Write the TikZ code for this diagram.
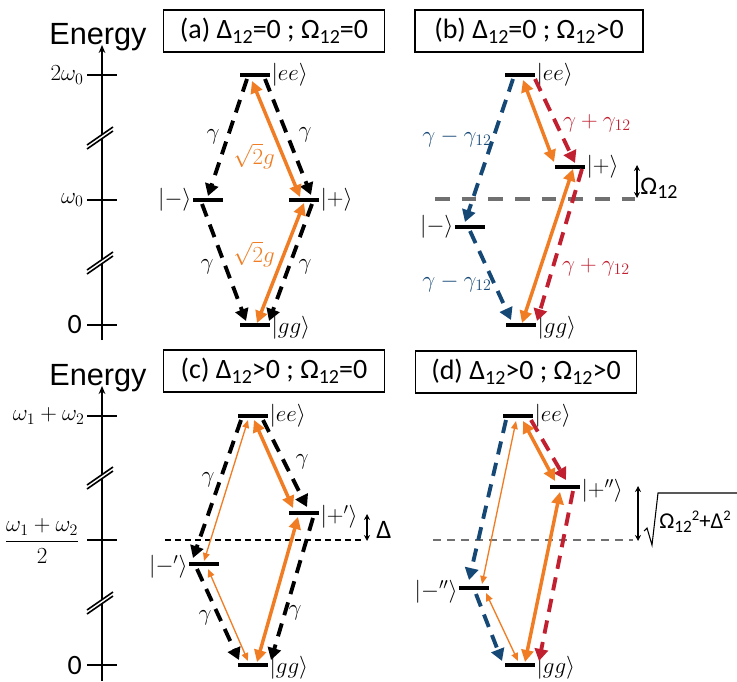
\documentclass[tikz,border=0pt]{standalone}
\usepackage{fontspec}
\usetikzlibrary{arrows.meta}
\newfontfamily\calfont{Carlito}
\newfontfamily\arialfont{Liberation Sans}
\definecolor{orng}{RGB}{240,125,35}
\definecolor{dblue}{RGB}{22,72,118}
\definecolor{dred}{RGB}{192,32,48}
\definecolor{gry}{RGB}{112,112,112}
\newcommand{\sbs}[1]{\raisebox{-0.35ex}{\fontsize{15}{15}\selectfont #1}}
\newcommand{\sbt}[1]{\raisebox{-0.35ex}{\fontsize{13}{13}\selectfont #1}}
\newcommand{\spt}[1]{\raisebox{0.75ex}{\fontsize{11}{11}\selectfont #1}}
\begin{document}
\begin{tikzpicture}[x=0.75pt,y=-0.75pt,
  bar/.style={fill=black, inner sep=0pt, minimum height=3pt, minimum width=22pt},
  decay/.style={line width=2.9pt, dash pattern=on 10pt off 6.5pt, -{Triangle[length=9pt,width=10pt]}},
  othick/.style={orng, line width=2.6pt, {Triangle[length=9pt,width=9pt]}-{Triangle[length=9pt,width=9pt]}},
  othin/.style={orng, line width=1pt, {Triangle[length=6pt,width=5pt]}-{Triangle[length=6pt,width=5pt]}},
  ttl/.style={draw, line width=0.8pt, minimum height=31.5pt, inner sep=0pt, font=\calfont\fontsize{21}{21}\selectfont},
  st/.style={font=\fontsize{18}{18}\selectfont, inner sep=1pt},
  rate/.style={font=\fontsize{17}{17}\selectfont, inner sep=0pt},
  tl/.style={font=\fontsize{18}{18}\selectfont, inner sep=0pt, anchor=east},
  en/.style={font=\arialfont\fontsize{23}{23}\selectfont, inner sep=0pt},
  axisl/.style={line width=1.5pt},
  smallarr/.style={line width=0.9pt, {Stealth[length=4.5pt,width=4.5pt]}-{Stealth[length=4.5pt,width=4.5pt]}},
  brk/.pic={
    \fill[white] (-13,7) -- (13,-11) -- (13,-7) -- (-13,11) -- cycle;
    \draw[line width=1.2pt] (-13,7) -- (13,-11);
    \draw[line width=1.2pt] (-13,11) -- (13,-7);
  }
]
\useasboundingbox (0,0) rectangle (737,681);

%================ Panel (a) =================
\node[ttl, minimum width=166pt] (ta) at (274,31) {(a) Δ\sbs{12}=0 ; Ω\sbs{12}=0};
\node[en] (enA) at (98,37) {Energy};
\coordinate (axA0) at (102,340);
\coordinate (axA1) at (102,45);
\draw[axisl, -{Stealth[length=6pt,width=5pt]}] (axA0) -- (axA1);
\foreach \yy in {75,200,325} \draw[axisl] (87,\yy) -- (117,\yy);
\node[tl] (lA1) at (84,75) {$2\omega_0$};
\node[tl] (lA2) at (84,200) {$\omega_0$};
\node[tl, font=\calfont\fontsize{21}{21}\selectfont] (lA3) at (82,325) {0};
\pic at (100,138) {brk};
\pic at (100,263) {brk};

\node[bar] (eeA) at (255,75) {};
\node[bar] (mA) at (208,200) {};
\node[bar] (pA) at (304,200) {};
\node[bar] (ggA) at (255,325) {};
\node[st, right] (eeAl) at (eeA.east) {$|ee\rangle$};
\node[st, left] (mAl) at (mA.west) {$|-\rangle$};
\node[st, right] (pAl) at (pA.east) {$|+\rangle$};
\node[st, right] (ggAl) at ([yshift=-2pt]ggA.east) {$|gg\rangle$};

\coordinate (a1) at (247,79);  \coordinate (a2) at (208,196);
\coordinate (a3) at (265,79);  \coordinate (a4) at (311,195);
\coordinate (a5) at (202,204); \coordinate (a6) at (246,321);
\coordinate (a7) at (312,204); \coordinate (a8) at (269,321);
\draw[decay] (a1) -- (a2);
\draw[decay] (a3) -- (a4);
\draw[decay] (a5) -- (a6);
\draw[decay] (a7) -- (a8);
\coordinate (a9) at (252,81);  \coordinate (a10) at (300,197);
\coordinate (a11) at (304,203); \coordinate (a12) at (257,323);
\draw[othick] (a9) -- (a10);
\draw[othick] (a11) -- (a12);
\node[rate] (gA1) at (213,137) {$\gamma$};
\node[rate] (gA2) at (305,135) {$\gamma$};
\node[rate] (gA3) at (207,267) {$\gamma$};
\node[rate] (gA4) at (305,267) {$\gamma$};
\node[rate, orng, font=\fontsize{18}{18}\selectfont] (sA1) at (254,156) {$\sqrt{2}g$};
\node[rate, orng, font=\fontsize{18}{18}\selectfont] (sA2) at (254,254) {$\sqrt{2}g$};

%================ Panel (b) =================
\node[ttl, minimum width=171pt] (tb) at (529,31) {(b) Δ\sbs{12}=0 ; Ω\sbs{12}>0};
\coordinate (gl1) at (435,199); \coordinate (gl2) at (635,199);
\draw[gry, line width=3pt, dash pattern=on 11pt off 9pt] (gl1) -- (gl2);
\node[bar] (eeB) at (520,75) {};
\node[bar] (pB) at (570,167) {};
\node[bar] (mB) at (470,227) {};
\node[bar] (ggB) at (521,325) {};
\node[st, right] (eeBl) at (eeB.east) {$|ee\rangle$};
\node[st, right] (pBl) at (pB.east) {$|+\rangle$};
\node[st, left] (mBl) at (mB.west) {$|-\rangle$};
\node[st, right] (ggBl) at ([yshift=-2pt]ggB.east) {$|gg\rangle$};

\coordinate (b1) at (513,79);  \coordinate (b2) at (465,222);
\coordinate (b3) at (470,231); \coordinate (b4) at (511,320);
\draw[decay, dblue] (b1) -- (b2);
\draw[decay, dblue] (b3) -- (b4);
\coordinate (b5) at (535,79);  \coordinate (b6) at (575,163);
\coordinate (b7) at (582,169); \coordinate (b8) at (537,321);
\draw[decay, dred] (b5) -- (b6);
\draw[decay, dred] (b7) -- (b8);
\coordinate (b9) at (523,80);  \coordinate (b10) at (554,162);
\coordinate (b11) at (573,169); \coordinate (b12) at (522,323);
\draw[othick] (b9) -- (b10);
\draw[othick] (b11) -- (b12);
\coordinate (b13) at (637,165); \coordinate (b14) at (637,198);
\draw[smallarr] (b13) -- (b14);
\node[inner sep=0pt, font=\calfont\fontsize{19}{19}\selectfont] (Om) at (659,188) {Ω\sbs{12}};
\node[rate, dblue] (gB1) at (457,138) {$\gamma-\gamma_{12}$};
\node[rate, dblue] (gB2) at (457,283) {$\gamma-\gamma_{12}$};
\node[rate, dred] (gB3) at (597,123) {$\gamma+\gamma_{12}$};
\node[rate, dred] (gB4) at (596,267) {$\gamma+\gamma_{12}$};

%================ Panel (c) =================
\node[ttl, minimum width=166pt] (tc) at (274,371) {(c) Δ\sbs{12}>0 ; Ω\sbs{12}=0};
\node[en] (enC) at (98,378) {Energy};
\coordinate (axC0) at (102,681);
\coordinate (axC1) at (102,386);
\draw[axisl, -{Stealth[length=6pt,width=5pt]}] (axC0) -- (axC1);
\foreach \yy in {416,540,665} \draw[axisl] (87,\yy) -- (117,\yy);
\node[tl] (lC1) at (85,416) {$\omega_1+\omega_2$};
\node[tl] (lC2) at (80,541) {$\displaystyle\frac{\omega_1+\omega_2}{2}$};
\node[tl, font=\calfont\fontsize{21}{21}\selectfont] (lC3) at (82,665) {0};
\pic at (100,478) {brk};
\pic at (100,603) {brk};

\coordinate (cl1) at (165,540); \coordinate (cl2) at (364,540);
\draw[line width=1pt, dash pattern=on 4.5pt off 3pt] (cl1) -- (cl2);
\node[bar] (eeC) at (253,416) {};
\node[bar] (pC) at (304,513) {};
\node[bar] (mC) at (204,564) {};
\node[bar] (ggC) at (253,665) {};
\node[st, right] (eeCl) at (eeC.east) {$|ee\rangle$};
\node[st, right] (pCl) at ([yshift=-3pt]pC.east) {$|+'\rangle$};
\node[st, left] (mCl) at ([yshift=-2pt]mC.west) {$|-'\rangle$};
\node[st, right] (ggCl) at ([yshift=-2pt]ggC.east) {$|gg\rangle$};

\coordinate (c1) at (241,420);  \coordinate (c2) at (193,558);
\coordinate (c3) at (263,420);  \coordinate (c4) at (307,507);
\coordinate (c5) at (197,569);  \coordinate (c6) at (239,660);
\coordinate (c7) at (313,518);  \coordinate (c8) at (271,660);
\draw[decay] (c1) -- (c2);
\draw[decay] (c3) -- (c4);
\draw[decay] (c5) -- (c6);
\draw[decay] (c7) -- (c8);
\coordinate (c9) at (248,420);  \coordinate (c10) at (204,561);
\coordinate (c11) at (208,569); \coordinate (c12) at (248,661);
\draw[othin] (c9) -- (c10);
\draw[othin] (c11) -- (c12);
\coordinate (c13) at (254,420); \coordinate (c14) at (293,508);
\coordinate (c15) at (298,517); \coordinate (c16) at (257,662);
\draw[othick] (c13) -- (c14);
\draw[othick] (c15) -- (c16);
\coordinate (c17) at (367,514); \coordinate (c18) at (367,541);
\draw[smallarr] (c17) -- (c18);
\node[inner sep=0pt, font=\calfont\fontsize{20}{20}\selectfont] (Dl) at (384,530) {Δ};
\node[rate] (gC1) at (208,480) {$\gamma$};
\node[rate] (gC2) at (302,462) {$\gamma$};
\node[rate] (gC3) at (205,618) {$\gamma$};
\node[rate] (gC4) at (295,613) {$\gamma$};

%================ Panel (d) =================
\node[ttl, minimum width=166pt] (td) at (526,372) {(d) Δ\sbs{12}>0 ; Ω\sbs{12}>0};
\coordinate (dl1) at (433,540); \coordinate (dl2) at (633,540);
\draw[gry, line width=1.3pt, dash pattern=on 6pt off 4.5pt] (dl1) -- (dl2);
\node[bar] (eeD) at (518,416) {};
\node[bar] (pD) at (565,487) {};
\node[bar] (mD) at (474,588) {};
\node[bar] (ggD) at (520,665) {};
\node[st, right] (eeDl) at (eeD.east) {$|ee\rangle$};
\node[st, right] (pDl) at ([yshift=-3pt]pD.east) {$|+''\rangle$};
\node[st, left] (mDl) at ([yshift=-3pt]mD.west) {$|-''\rangle$};
\node[st, right] (ggDl) at ([yshift=-2pt]ggD.east) {$|gg\rangle$};

\coordinate (d1) at (506,420);  \coordinate (d2) at (469,580);
\coordinate (d3) at (476,594);  \coordinate (d4) at (502,661);
\draw[decay, dblue] (d1) -- (d2);
\draw[decay, dblue] (d3) -- (d4);
\coordinate (d5) at (531,420);  \coordinate (d6) at (566,480);
\coordinate (d7) at (573,491);  \coordinate (d8) at (539,661);
\draw[decay, dred] (d5) -- (d6);
\draw[decay, dred] (d7) -- (d8);
\coordinate (d9) at (516,421);  \coordinate (d10) at (482,584);
\coordinate (d11) at (486,593); \coordinate (d12) at (518,661);
\draw[othin] (d9) -- (d10);
\draw[othin] (d11) -- (d12);
\coordinate (d13) at (523,421); \coordinate (d14) at (555,481);
\coordinate (d15) at (560,492); \coordinate (d16) at (525,662);
\draw[othick] (d13) -- (d14);
\draw[othick] (d15) -- (d16);
\coordinate (d17) at (638,486); \coordinate (d18) at (638,541);
\draw[smallarr] (d17) -- (d18);
% radical sign drawn as a path, text beside it
\draw[line width=0.8pt, line join=miter] (644,531) -- (647,528) -- (652,545) -- (658,493) -- (737,493);
\node[inner sep=0pt, anchor=west, font=\calfont\fontsize{17}{17}\selectfont] (sq) at (659,522)
  {Ω\sbt{12}\spt{2}+Δ\spt{2}};
\end{tikzpicture}
\end{document}
